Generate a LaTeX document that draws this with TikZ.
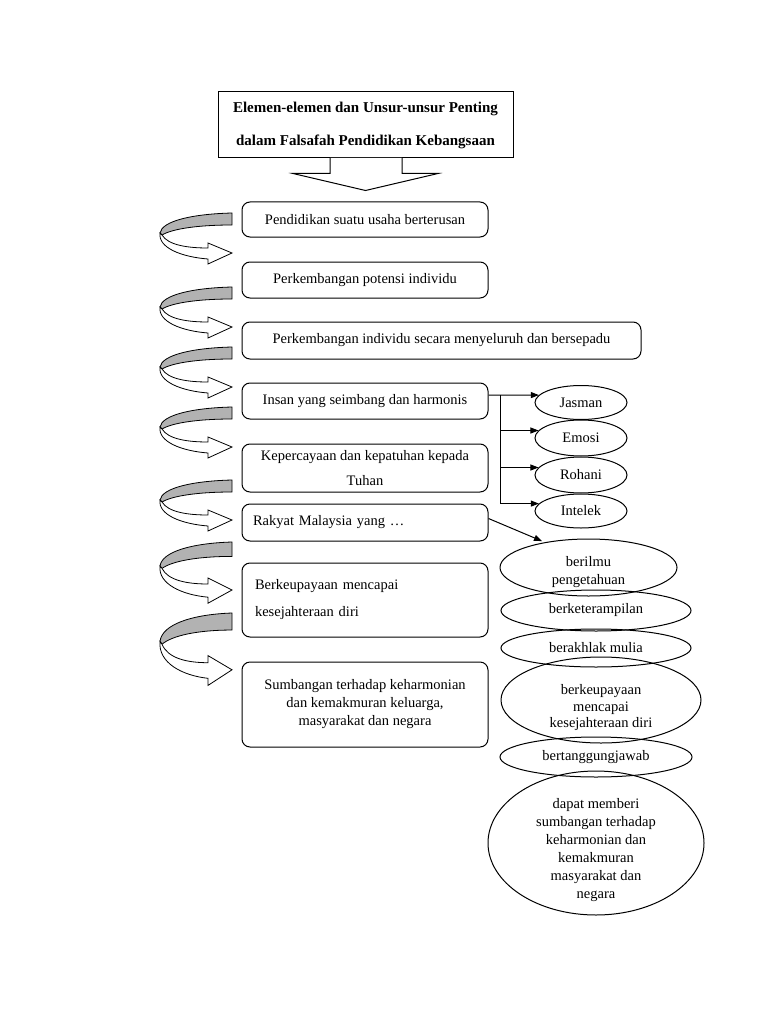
\documentclass[tikz,border=0pt]{standalone}
\usepackage{fontspec}
\setmainfont{Liberation Serif}
\usetikzlibrary{shapes.geometric,arrows.meta}

\begin{document}
\begin{tikzpicture}
          [x=1pt,y=-1pt,
          font=\fontsize{14.5}{18}\selectfont,
          titlebox/.style={shape=rectangle,draw=black,line width=1pt,minimum width=295pt,minimum height=66pt,align=center,font=\fontsize{15}{33}\selectfont\bfseries},
          stage/.style={shape=rectangle,rounded corners=8pt,draw=black,line width=1pt,minimum width=246pt,align=center,inner sep=4pt},
          trait/.style={shape=ellipse,draw=black,line width=1pt,inner sep=0pt,align=center},
          arc/.style={-{Triangle[length=8pt,width=6pt]},line width=1pt},
          edge/.style={line width=1pt},
          bendarrow/.pic={
            \path[fill=gray!60,draw=black,line width=0.8pt] (0,0) .. controls (-40,1) and (-70,8) .. (-72,20) -- (-70,22) .. controls (-60,16) and (-35,12) .. (0,12) -- cycle;
            \path[fill=white,draw=black,line width=0.8pt] (-72,20) .. controls (-74,35) and (-50,44) .. (-24,46) -- (-24,51) -- (0,40) -- (-24,30) -- (-24,35) .. controls (-45,35) and (-64,32) .. (-70,22) -- cycle;
          }]

            \path[fill=white,use as bounding box] (0,0) rectangle (768,1024);

            \node (title) [titlebox] at (365.5,125) {Elemen-elemen dan Unsur-unsur Penting\\dalam Falsafah Pendidikan Kebangsaan};
            \path[draw=black,fill=white,line width=1pt] ([xshift=-35.5pt,yshift=0.6pt]title.south) -- ([xshift=-35.5pt,yshift=-15pt]title.south) -- ([xshift=-72.5pt,yshift=-15pt]title.south) -- ([yshift=-32pt]title.south) -- ([xshift=72.5pt,yshift=-15pt]title.south) -- ([xshift=36.5pt,yshift=-15pt]title.south) -- ([xshift=36.5pt,yshift=0.6pt]title.south);

            \node (s1) [stage,minimum height=35pt] at (365,219.5) {Pendidikan suatu usaha berterusan};
            \node (s2) [stage,minimum height=36pt] at (365,280) {Perkembangan potensi individu};
            \node (s3) [stage,minimum width=399pt,minimum height=37pt] at (441.5,340.5) {Perkembangan individu secara menyeluruh dan bersepadu};
            \node (s4) [stage,minimum height=36pt] at (365,401) {Insan yang seimbang dan harmonis};
            \node (s5) [stage,minimum height=48pt] at (365,468) {Kepercayaan dan kepatuhan kepada\\[7pt]Tuhan};
            \node (s6) [stage,minimum height=37pt,text width=224pt,align=left] at (365,522.5) {Rakyat Malaysia yang …};
            \node (s7) [stage,minimum height=74pt,text width=220pt,align=left] at (365,600) {Berkeupayaan mencapai\\[9pt]kesejahteraan diri};
            \node (s8) [stage,minimum height=85pt] at (365,704.5) {Sumbangan terhadap keharmonian\\dan kemakmuran keluarga,\\masyarakat dan negara};

            % putaran di sebelah kiri
            \pic at (232,213) {bendarrow};
            \pic at (232,287) {bendarrow};
            \pic at (232,347) {bendarrow};
            \pic at (232,407) {bendarrow};
            \pic at (232,480) {bendarrow};
            \pic[yscale=1.2] at (232,542) {bendarrow};
            \pic[yscale=1.42] at (232,613) {bendarrow};

            \node (jasman) [trait,minimum width=92pt,minimum height=34pt] at (581,402.5) {Jasman};
            \node (emosi) [trait,minimum width=92pt,minimum height=36pt] at (581,438) {Emosi};
            \node (rohani) [trait,minimum width=92pt,minimum height=36pt] at (581,475) {Rohani};
            \node (intelek) [trait,minimum width=92pt,minimum height=34pt] at (581,511) {Intelek};

            \node (ilmu) [trait,minimum width=177pt,minimum height=57pt] at (588.5,567.5) {};
            \node (ilmutext) [align=center] at ([yshift=-4.5pt]ilmu.center) {berilmu\\pengetahuan};
            \node (mahir) [trait,minimum width=190pt,minimum height=41pt] at (596,610.5) {berketerampilan};
            \node (akhlak) [trait,minimum width=190pt,minimum height=38pt] at (596,648) {berakhlak mulia};
            \node (upaya) [trait,minimum width=200pt,minimum height=86pt] at (601,700) {};
            \node (upayatext) [align=center,font=\fontsize{14.5}{16.5}\selectfont] at ([yshift=-8pt]upaya.center) {berkeupayaan\\mencapai\\kesejahteraan diri};
            \node (tanggung) [trait,minimum width=192pt,minimum height=40pt] at (596,757) {bertanggungjawab};
            \node (sumbang) [trait,minimum width=216pt,minimum height=144pt] at (596,843) {};
            \node (sumbangtext) [align=center] at ([yshift=-7pt]sumbang.center) {dapat memberi\\sumbangan terhadap\\keharmonian dan\\kemakmuran\\masyarakat dan\\negara};

            \coordinate (fork) at ([xshift=12pt,yshift=6pt]s4.east);
            \draw [arc] ([yshift=6pt]s4.east) -- (jasman.170);
            \draw [edge] (fork) -- (fork |- intelek.170);
            \draw [arc] (fork |- emosi.170) -- (emosi.170);
            \draw [arc] (fork |- rohani.170) -- (rohani.170);
            \draw [arc] (fork |- intelek.170) -- (intelek.170);
            \draw [arc,shorten >=3pt] ([yshift=4pt]s6.east) -- (ilmu.150);

\end{tikzpicture}
\end{document}
